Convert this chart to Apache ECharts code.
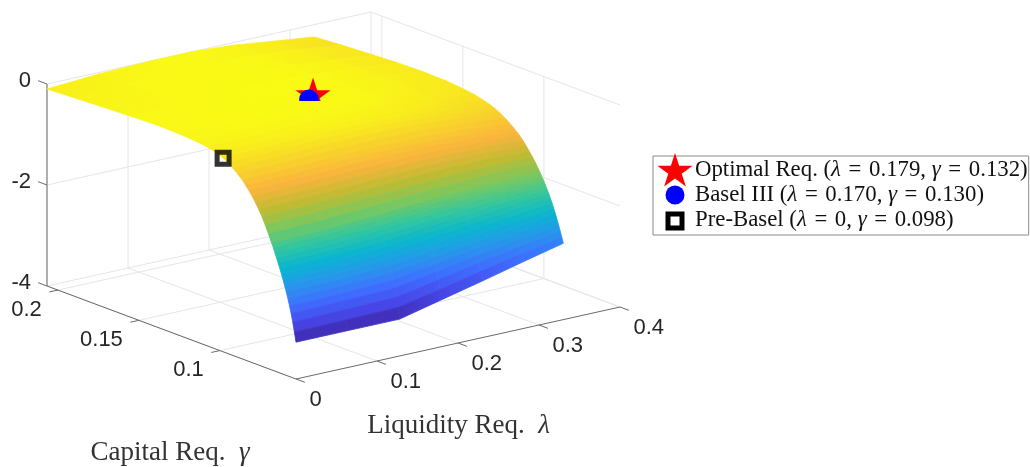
<!DOCTYPE html>
<html><head><meta charset="utf-8">
<style>html,body{margin:0;padding:0;background:#fff}#c{width:1030px;height:467px}</style>
<script src="https://cdn.jsdelivr.net/npm/echarts@6/dist/echarts.min.js"></script>
</head><body><div id="c"></div>
<script>
// ---------- data ----------
const lambdaCols = [0, 0.064, 0.128, 0.18, 0.23, 0.28, 0.33];
const gammaRows = [0.2067,0.19,0.17,0.155,0.14,0.125,0.115,0.108,0.102,0.098,0.095,0.092,0.089,0.086,0.084,0.082,0.08,0.078,0.076,0.074,0.072,0.07,0.068,0.067,0.066,0.065,0.064,0.063,0.062,0.061,0.06,0.059,0.058,0.057,0.056,0.055,0.054,0.053];
const surfaceZ = [
[-0.10,-0.03,0,0,-0.05,-0.15,-0.245],
[-0.07,-0.02,0.01,0.01,-0.03,-0.11,-0.205],
[-0.04,0,0.02,0.02,-0.01,-0.08,-0.165],
[-0.02,0.01,0.03,0.03,0,-0.06,-0.14],
[0,0.02,0.03,0.03,0,-0.06,-0.13],
[-0.01,0.01,0.02,0.02,-0.01,-0.07,-0.14],
[-0.03,-0.01,0.01,0.01,-0.03,-0.10,-0.17],
[-0.06,-0.04,-0.02,-0.02,-0.05,-0.12,-0.20],
[-0.11,-0.09,-0.06,-0.06,-0.09,-0.17,-0.25],
[-0.16,-0.13,-0.10,-0.10,-0.13,-0.21,-0.29],
[-0.22,-0.19,-0.16,-0.15,-0.18,-0.25,-0.33],
[-0.29,-0.26,-0.23,-0.22,-0.24,-0.30,-0.38],
[-0.37,-0.34,-0.31,-0.30,-0.32,-0.37,-0.44],
[-0.46,-0.43,-0.40,-0.39,-0.40,-0.44,-0.51],
[-0.54,-0.51,-0.47,-0.46,-0.47,-0.50,-0.56],
[-0.62,-0.59,-0.55,-0.53,-0.54,-0.57,-0.62],
[-0.71,-0.68,-0.64,-0.62,-0.62,-0.64,-0.68],
[-0.81,-0.78,-0.74,-0.71,-0.70,-0.72,-0.75],
[-0.92,-0.89,-0.85,-0.81,-0.79,-0.80,-0.83],
[-1.04,-1.01,-0.96,-0.92,-0.89,-0.89,-0.92],
[-1.18,-1.15,-1.09,-1.05,-1.01,-1.00,-1.01],
[-1.33,-1.30,-1.24,-1.19,-1.15,-1.12,-1.11],
[-1.49,-1.46,-1.40,-1.34,-1.29,-1.25,-1.22],
[-1.57,-1.54,-1.48,-1.42,-1.36,-1.32,-1.28],
[-1.66,-1.63,-1.57,-1.50,-1.44,-1.39,-1.34],
[-1.75,-1.72,-1.66,-1.58,-1.52,-1.46,-1.40],
[-1.84,-1.81,-1.75,-1.67,-1.60,-1.53,-1.47],
[-1.93,-1.90,-1.85,-1.76,-1.68,-1.61,-1.54],
[-2.03,-2.00,-1.95,-1.85,-1.77,-1.69,-1.61],
[-2.13,-2.11,-2.05,-1.95,-1.86,-1.77,-1.69],
[-2.24,-2.22,-2.16,-2.06,-1.96,-1.86,-1.77],
[-2.35,-2.33,-2.28,-2.17,-2.06,-1.96,-1.86],
[-2.47,-2.45,-2.41,-2.29,-2.17,-2.06,-1.95],
[-2.60,-2.58,-2.54,-2.41,-2.28,-2.17,-2.05],
[-2.74,-2.72,-2.69,-2.55,-2.41,-2.28,-2.15],
[-2.90,-2.88,-2.86,-2.70,-2.54,-2.40,-2.26],
[-3.08,-3.07,-3.05,-2.88,-2.70,-2.53,-2.37],
[-3.27,-3.27,-3.27,-3.07,-2.88,-2.68,-2.49]
];
const lambdaTicks = [0, 0.1, 0.2, 0.3, 0.4];
const gammaTicks = [0.1, 0.15, 0.2];
const zTicks = [0, -2, -4];
const optimalPoint = [0.179, 0.132, 0.02];
const baselPoint = [0.170, 0.130, 0.01];
const preBaselPoint = [0, 0.098, -0.17];
const seriesNames = ['Optimal Req. (λ = 0.179, γ = 0.132)', 'Basel III (λ = 0.170, γ = 0.130)', 'Pre-Basel (λ = 0, γ = 0.098)'];

// ---------- view ----------
const L0 = 0, L1 = 0.4, G0 = 0.053, G1 = 0.2067, Z0 = -4, Z1 = 0;
const proj = (l, g, z) => [296 + 810 * l - 1620 * (g - G0), 379 - 180 * l - 605 * (g - G0) - 50.5 * (z - Z0)];

const cmapStops = [[62,38,168],[71,71,235],[62,111,255],[39,150,235],[8,181,208],[49,198,159],[120,200,95],[190,187,50],[250,180,60],[248,215,40],[249,251,20]];
function cmap(z) {
  const t = Math.max(0, Math.min(1, (z + 3.27) / 3.3)) * (cmapStops.length - 1);
  const i = Math.min(cmapStops.length - 2, Math.floor(t)), f = t - i;
  const c = cmapStops[i].map((v, k) => Math.round(v + (cmapStops[i + 1][k] - v) * f));
  return `rgb(${c[0]},${c[1]},${c[2]})`;
}

// surface cells
const cells = [];
for (let r = 0; r < gammaRows.length - 1; r++) for (let c = 0; c < lambdaCols.length - 1; c++) {
  const a = proj(lambdaCols[c], gammaRows[r], surfaceZ[r][c]);
  const b = proj(lambdaCols[c + 1], gammaRows[r], surfaceZ[r][c + 1]);
  const d = proj(lambdaCols[c + 1], gammaRows[r + 1], surfaceZ[r + 1][c + 1]);
  const e = proj(lambdaCols[c], gammaRows[r + 1], surfaceZ[r + 1][c]);
  cells.push([...a, ...b, ...d, ...e, (surfaceZ[r][c] + surfaceZ[r + 1][c]) / 2, (surfaceZ[r][c + 1] + surfaceZ[r + 1][c + 1]) / 2]);
}

// grid lines
const grid = [];
const seg = (p, q) => grid.push([...proj(...p), ...proj(...q)]);
lambdaTicks.forEach(l => { seg([l, G0, Z0], [l, G1, Z0]); seg([l, G1, Z0], [l, G1, Z1]); });
gammaTicks.forEach(g => { seg([L0, g, Z0], [L1, g, Z0]); seg([L1, g, Z0], [L1, g, Z1]); });
zTicks.forEach(z => { seg([L0, G1, z], [L1, G1, z]); seg([L1, G1, z], [L1, G0, z]); });
// axis lines + ticks
const axes = [];
const aseg = (p, q) => axes.push([...proj(...p), ...proj(...q)]);
aseg([L0, G1, Z0], [L0, G1, Z1]);
aseg([L0, G1, Z0], [L0, G0, Z0]);
aseg([L0, G0, Z0], [L1, G0, Z0]);
const tl = 0.0055, lt = 0.0105;
zTicks.forEach(z => aseg([L0, G1, z], [L0, G1 + tl, z]));
gammaTicks.forEach(g => aseg([L0, g, Z0], [-lt, g, Z0]));
lambdaTicks.forEach(l => aseg([l, G0, Z0], [l, G0 - tl, Z0]));

// tick labels
const labels = [];
lambdaTicks.forEach(l => { const p = proj(l, G0, Z0); labels.push([p[0] + 13.5, p[1] + 21, String(l), 'left']); });
gammaTicks.forEach(g => { const p = proj(L0, g, Z0); labels.push([p[0] - 16, p[1] + 19.5, String(g), 'right']); });
zTicks.forEach(z => { const p = proj(L0, G1, z); labels.push([p[0] - 16, p[1] - 3, String(z), 'right']); });

const segSeries = (name, data, color, w) => ({
  type: 'custom', name, silent: true, clip: false, data,
  encode: { x: 0, y: 1 },
  renderItem: (_, api) => {
    const a = api.coord([api.value(0), api.value(1)]), b = api.coord([api.value(2), api.value(3)]);
    return { type: 'line', shape: { x1: a[0], y1: a[1], x2: b[0], y2: b[1] }, style: { stroke: color, lineWidth: w } };
  }
});
function starPts(cx, cy, R) {
  const pts = [], r = R * 0.382;
  for (let i = 0; i < 10; i++) {
    const a = -Math.PI / 2 + i * Math.PI / 5, q = i % 2 ? r : R;
    pts.push([cx + q * Math.cos(a), cy + q * Math.sin(a)]);
  }
  return pts;
}
const clipBottom = 101; // the surface hides the lower part of both markers
const sans = '"Liberation Sans", Arial, sans-serif', serif = '"Liberation Serif", serif';
const legendRich = {
  t: { fontFamily: serif, fontSize: 22.8, color: '#111', lineHeight: 25 },
  i: { fontFamily: serif, fontSize: 22.8, color: '#111', fontStyle: 'italic', lineHeight: 25 }
};
const richName = s => s.replace(/ = /g, '\u200a = \u200a').split(/([λγ])/).filter(Boolean).map(p => (p === 'λ' || p === 'γ') ? `{i|${p}}` : `{t|${p}}`).join('');
const titleRich = {
  t: { fontFamily: serif, fontSize: 27, fill: '#333', color: '#333' },
  i: { fontFamily: serif, fontSize: 27, fontStyle: 'italic', fill: '#333', color: '#333' }
};

const option = {
  animation: false,
  backgroundColor: '#fff',
  grid: { left: 0, right: 0, top: 0, bottom: 0 },
  xAxis: { type: 'value', min: 0, max: 1030, show: false },
  yAxis: { type: 'value', min: 0, max: 467, inverse: true, show: false },
  legend: {
    orient: 'vertical', left: 653, top: 156, padding: [2, 1, 2, 1], itemWidth: 36, itemHeight: 25, itemGap: 0,
    selectedMode: false, backgroundColor: '#fff', borderColor: '#8a8a8a', borderWidth: 1,
    itemStyle: { color: 'transparent', borderColor: 'transparent', borderWidth: 0 },
    icon: 'rect', data: seriesNames,
    formatter: richName, textStyle: { rich: legendRich, padding: 0 }
  },
  graphic: [
    { type: 'polygon', z: 100, shape: { points: starPts(675, 171.5, 18.5) }, style: { fill: '#f00' } },
    { type: 'circle', z: 100, shape: { cx: 675, cy: 195, r: 9.5 }, style: { fill: '#00f' } },
    { type: 'rect', z: 100, shape: { x: 668, y: 214, width: 14, height: 14 }, style: { fill: '#fff', stroke: '#000', lineWidth: 5 } },
    { type: 'text', x: 170, y: 453, style: { text: '{t|Capital Req.  }{i|γ}', align: 'center', verticalAlign: 'middle', rich: titleRich } },
    { type: 'text', x: 458.5, y: 426, style: { text: '{t|Liquidity Req.  }{i|λ}', align: 'center', verticalAlign: 'middle', rich: titleRich } }
  ],
  series: [
    segSeries('grid', grid, '#e6e6e6', 1),
    segSeries('axes', axes, '#6a6a6a', 1),
    {
      type: 'custom', name: 'tick labels', silent: true, clip: false, data: labels.map(d => [d[0], d[1]]),
      encode: { x: 0, y: 1 },
      renderItem: (params, api) => {
        const p = api.coord([api.value(0), api.value(1)]);
        const d = labels[params.dataIndex];
        return { type: 'text', x: p[0], y: p[1], style: { text: d[2], align: d[3], verticalAlign: 'middle', fontFamily: sans, fontSize: 22, fill: '#262626' } };
      }
    },
    {
      type: 'custom', name: 'surface', silent: true, clip: false, data: cells, z: 3,
      encode: { x: 0, y: 1 },
      renderItem: (_, api) => {
        const pts = [0, 2, 4, 6].map(i => api.coord([api.value(i), api.value(i + 1)]));
        const fill = { type: 'linear', x: 0, y: 0, x2: 1, y2: 0, colorStops: [{ offset: 0, color: cmap(api.value(8)) }, { offset: 1, color: cmap(api.value(9)) }] };
        return { type: 'polygon', shape: { points: pts }, style: { fill, stroke: fill, lineWidth: 0.8 } };
      }
    },
    {
      type: 'custom', name: seriesNames[0], silent: true, clip: false, z: 4, data: [proj(...optimalPoint)],
      encode: { x: 0, y: 1 }, itemStyle: { color: '#f00' },
      renderItem: (_, api) => {
        const p = api.coord([api.value(0), api.value(1)]);
        return { type: 'polygon', shape: { points: starPts(p[0], p[1], 18.5) }, style: { fill: '#f00' },
          clipPath: { type: 'rect', shape: { x: p[0] - 30, y: p[1] - 30, width: 60, height: clipBottom - p[1] + 30 } } };
      }
    },
    {
      type: 'custom', name: seriesNames[1], silent: true, clip: false, z: 5, data: [proj(...baselPoint)],
      encode: { x: 0, y: 1 }, itemStyle: { color: '#00f' },
      renderItem: (_, api) => {
        const p = api.coord([api.value(0), api.value(1)]);
        return { type: 'circle', shape: { cx: p[0], cy: p[1], r: 9.8 }, style: { fill: '#00f' },
          clipPath: { type: 'rect', shape: { x: p[0] - 15, y: p[1] - 15, width: 30, height: clipBottom - p[1] + 15 } } };
      }
    },
    {
      type: 'scatter', name: seriesNames[2], silent: true, z: 5, data: [proj(...preBaselPoint)],
      symbol: 'rect', symbolSize: 12, itemStyle: { color: 'transparent', borderColor: '#000', borderWidth: 5 }
    }
  ]
};
echarts.init(document.getElementById('c')).setOption(option);
</script></body></html>
